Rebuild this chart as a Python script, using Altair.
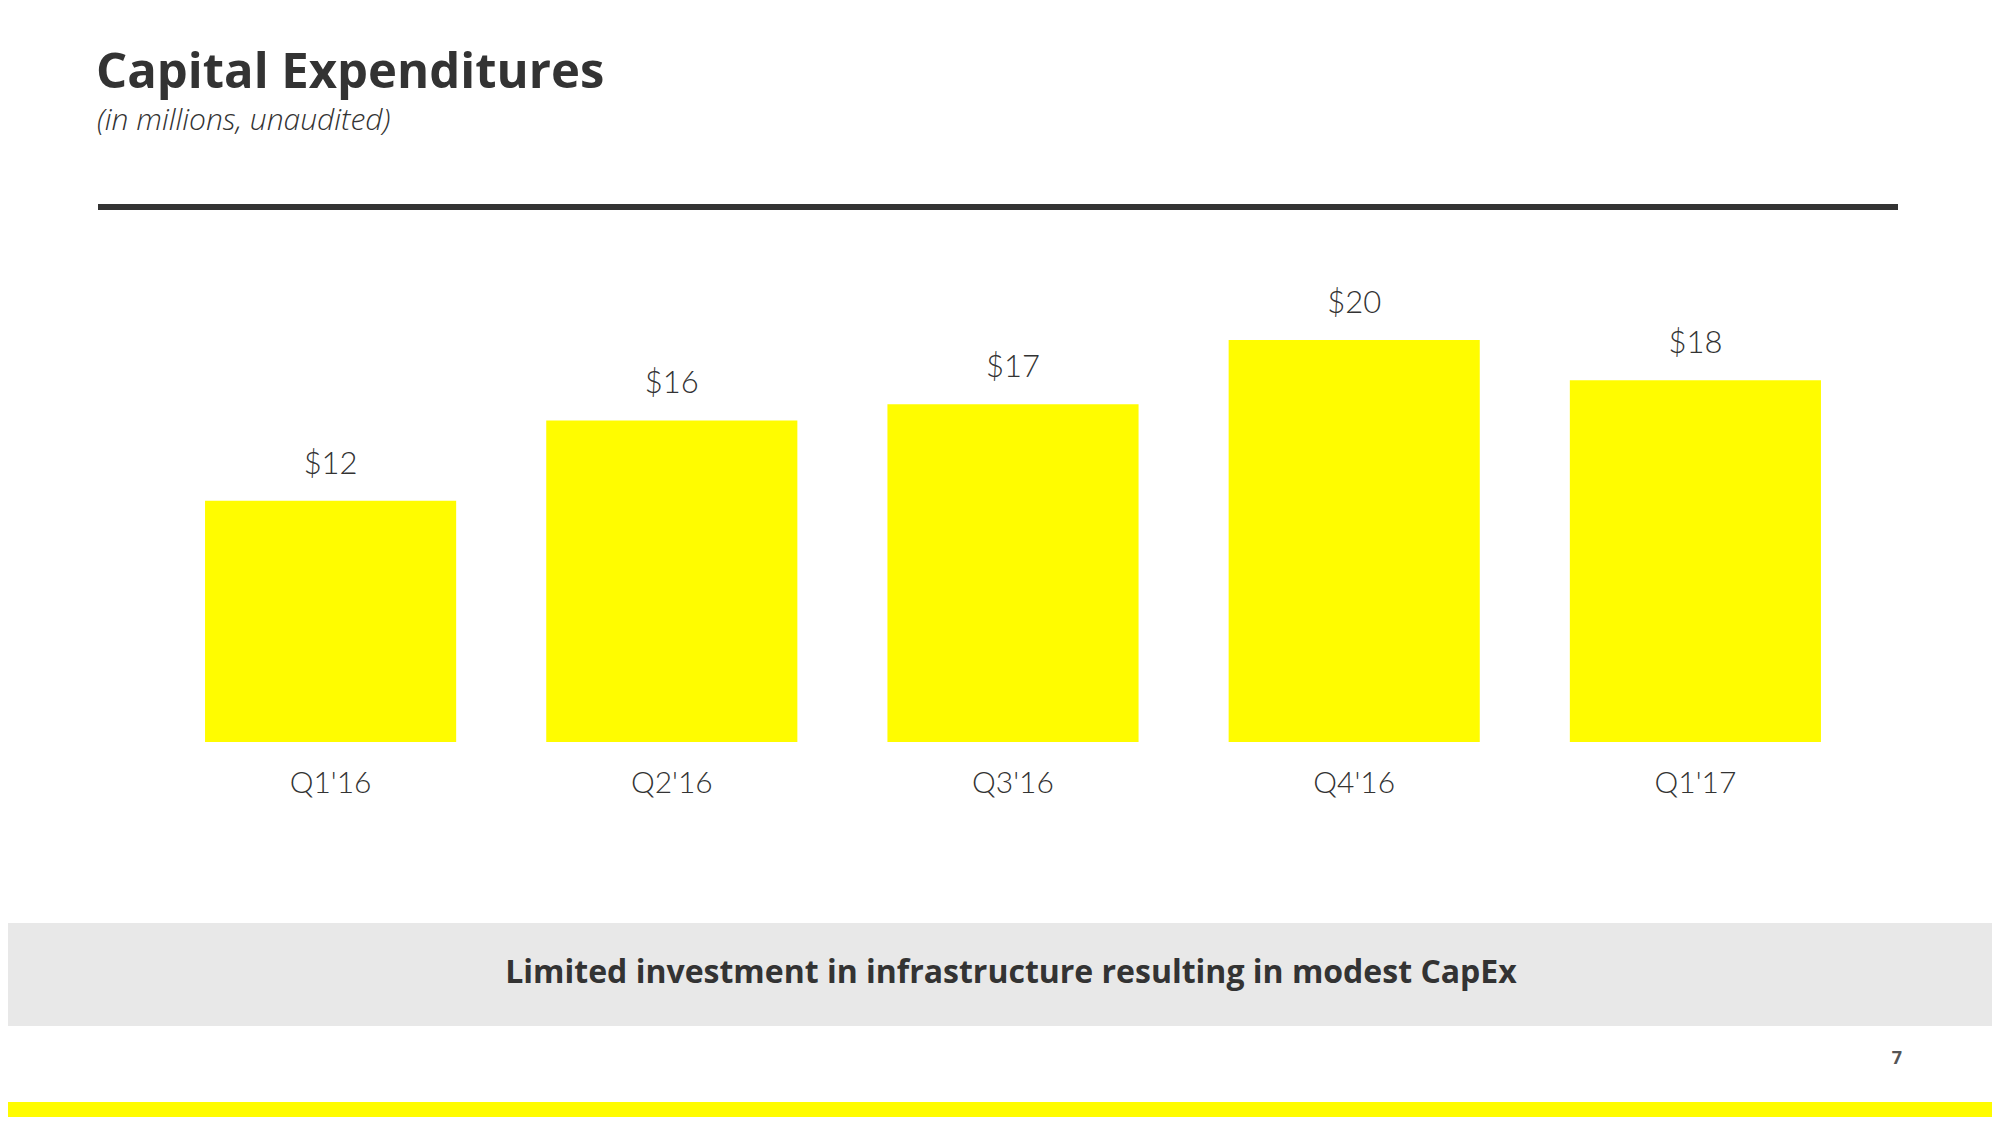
import altair as alt
import pandas as pd

# ---- data ----
quarters = ["Q1'16", "Q2'16", "Q3'16", "Q4'16", "Q1'17"]
capex = [12, 16, 16.8, 20, 18]
capex_labels = ["$12", "$16", "$17", "$20", "$18"]

TITLE = "Capital Expenditures"
SUBTITLE = "(in millions, unaudited)"
TAKEAWAY = "Limited investment in infrastructure resulting in modest CapEx"
PAGE = "7"

df = pd.DataFrame({"quarter": quarters, "capex": capex, "label": capex_labels})

FONT = "Lato"
HEAD_FONT = "Open Sans"
TEXT = "#333333"
YELLOW = "#FFFC00"

# plot area: page x 160..1866, page y 340..742
PW, PH = 1706, 402
PAD_L, PAD_T = 152, 332
PAD_R = 1984 - PAD_L - PW
PAD_B = 1109 - PAD_T - PH

xs = alt.X("quarter:N", sort=quarters, axis=None,
           scale=alt.Scale(paddingInner=0.264, paddingOuter=0.132))
ys = alt.Y("capex:Q", axis=None, scale=alt.Scale(domain=[0, 20], nice=False, zero=True))

bars = alt.Chart(df).mark_bar(color=YELLOW).encode(x=xs, y=ys)

values = alt.Chart(df).mark_text(
    font=FONT, fontSize=31, fontWeight=300, color=TEXT, baseline="alphabetic", dy=-27
).encode(x=xs, y=ys, text="label:N")

cats = alt.Chart(df).mark_text(
    font=FONT, fontSize=30, fontWeight=300, color=TEXT, baseline="alphabetic"
).encode(x=xs, y=alt.value(793 - 340), text="quarter:N")


def one(text):
    return alt.Chart(pd.DataFrame({"t": [text]}))


def page_x(v):
    return v - 160


def page_y(v):
    return v - 340


title = one(TITLE).mark_text(
    font=HEAD_FONT, fontSize=49, fontWeight="bold", color=TEXT, align="left", baseline="alphabetic"
).encode(x=alt.value(page_x(96)), y=alt.value(page_y(88)), text="t:N")

subtitle = one(SUBTITLE).mark_text(
    font=HEAD_FONT, fontSize=30, fontWeight=300, fontStyle="italic", color=TEXT,
    align="left", baseline="alphabetic"
).encode(x=alt.value(page_x(97)), y=alt.value(page_y(130)), text="t:N")

rule = one("r").mark_rule(color="#333333", strokeWidth=6).encode(
    x=alt.value(page_x(98)), x2=alt.value(page_x(1898)), y=alt.value(page_y(207))
)

band = one("b").mark_rect(color="#E8E8E8").encode(
    x=alt.value(page_x(0)), x2=alt.value(page_x(2000)),
    y=alt.value(page_y(923)), y2=alt.value(page_y(1026))
)

band_text = one(TAKEAWAY).mark_text(
    font=HEAD_FONT, fontSize=32, fontWeight="bold", color=TEXT, align="center", baseline="alphabetic"
).encode(x=alt.value(page_x(1011)), y=alt.value(page_y(983)), text="t:N")

page_num = one(PAGE).mark_text(
    font=HEAD_FONT, fontSize=18, fontWeight="bold", color="#555555", align="center", baseline="alphabetic"
).encode(x=alt.value(page_x(1897)), y=alt.value(page_y(1064)), text="t:N")

strip = one("s").mark_rect(color=YELLOW).encode(
    x=alt.value(page_x(0)), x2=alt.value(page_x(2000)),
    y=alt.value(page_y(1102)), y2=alt.value(page_y(1130))
)

chart = alt.layer(
    band, strip, rule, title, subtitle, bars, values, cats, band_text, page_num
).properties(
    width=PW, height=PH,
    padding={"left": PAD_L, "top": PAD_T, "right": PAD_R, "bottom": PAD_B},
    autosize=alt.AutoSizeParams(type="none"),
    background="white",
).configure_view(stroke=None)

chart.save("out.html", embed_options={"renderer": "svg", "actions": False})
